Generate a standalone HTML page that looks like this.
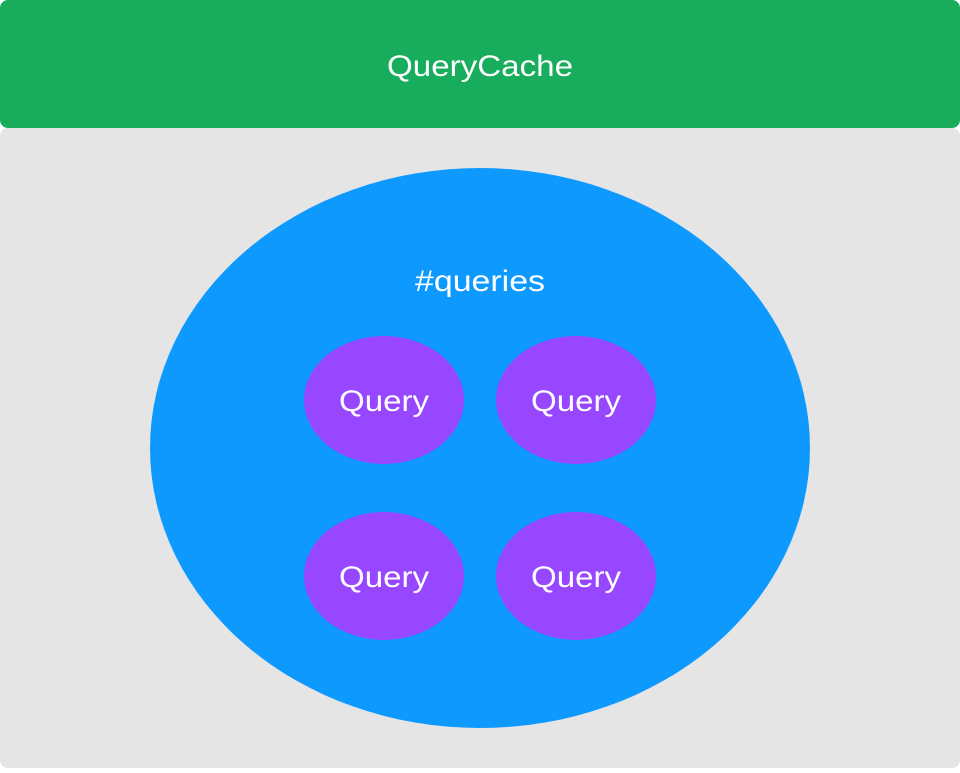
<!DOCTYPE html>
<html><head><style>
body{margin:0;width:960px;height:768px;background:#fff;overflow:hidden}
</style></head><body>
<svg width="960" height="768" xmlns="http://www.w3.org/2000/svg" font-family="Liberation Sans, sans-serif">
<rect x="0" y="128" width="960" height="640" rx="8" fill="#e5e5e5"/>
<rect x="0" y="0" width="960" height="128" rx="8" fill="#17ad5c"/>
<text x="480" y="76" font-size="30" fill="#fff" text-anchor="middle" textLength="186" lengthAdjust="spacingAndGlyphs">QueryCache</text>
<ellipse cx="480" cy="448" rx="330" ry="280" fill="#0e99ff"/>
<text x="480" y="291" font-size="30" fill="#fff" text-anchor="middle" textLength="130" lengthAdjust="spacingAndGlyphs">#queries</text>
<g fill="#9747ff">
<ellipse cx="384" cy="400" rx="80" ry="64"/>
<ellipse cx="576" cy="400" rx="80" ry="64"/>
<ellipse cx="384" cy="576" rx="80" ry="64"/>
<ellipse cx="576" cy="576" rx="80" ry="64"/>
</g>
<g font-size="30" fill="#fff" text-anchor="middle">
<text x="384" y="411" textLength="90" lengthAdjust="spacingAndGlyphs">Query</text>
<text x="576" y="411" textLength="90" lengthAdjust="spacingAndGlyphs">Query</text>
<text x="384" y="587" textLength="90" lengthAdjust="spacingAndGlyphs">Query</text>
<text x="576" y="587" textLength="90" lengthAdjust="spacingAndGlyphs">Query</text>
</g>
</svg>
</body></html>
